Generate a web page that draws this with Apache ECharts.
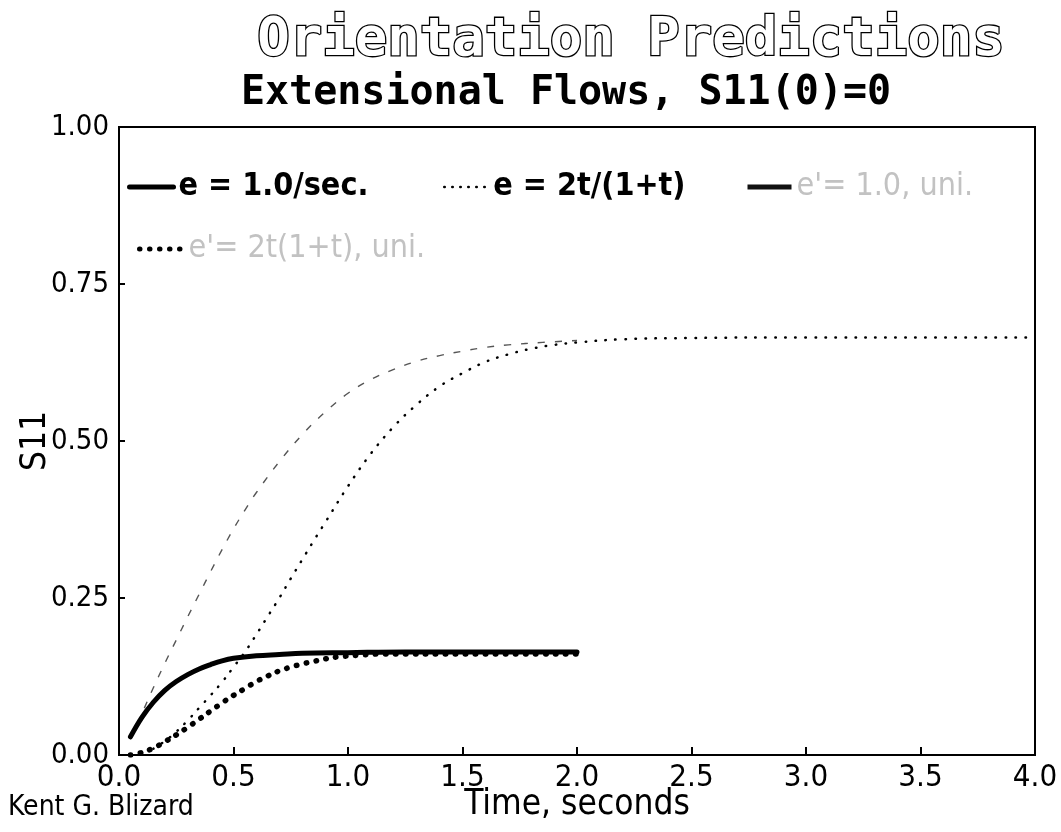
<!DOCTYPE html>
<html><head><meta charset="utf-8">
<script src="https://cdn.jsdelivr.net/npm/echarts@6/dist/echarts.min.js"></script>
<style>html,body{margin:0;padding:0;background:#fff}#c{width:1061px;height:832px}</style>
</head><body><div id="c"></div>
<script>
const titleText = 'Orientation Predictions';
const subtitleText = 'Extensional Flows, S11(0)=0';
const authorText = 'Kent G. Blizard';
const xAxisName = 'Time, seconds';
const yAxisName = 'S11';
const seriesNames = ['e = 1.0/sec.', 'e = 2t/(1+t)', "e'= 1.0, uni.", "e'= 2t(1+t), uni."];

// Series 1: e = 1.0/sec. (solid)
const s1T = [0.05,0.10,0.15,0.20,0.25,0.30,0.35,0.40,0.45,0.50,0.60,0.70,0.80,1.0,1.25,1.5,1.75,2.0];
const s1V = [0.029,0.060,0.084,0.103,0.117,0.128,0.137,0.144,0.150,0.154,0.158,0.160,0.162,0.163,0.164,0.164,0.164,0.164];
// Series 2: e = 2t/(1+t) (fine dots)
const s2T = [0.15,0.20,0.25,0.30,0.35,0.40,0.45,0.50,0.55,0.60,0.65,0.70,0.75,0.80,0.85,0.90,1.00,1.10,1.20,1.30,1.40,1.50,1.60,1.70,1.80,1.90,2.00,2.20,2.50,3.0,3.5,4.0];
const s2V = [0.010,0.022,0.037,0.055,0.075,0.095,0.116,0.140,0.164,0.192,0.221,0.250,0.281,0.311,0.341,0.370,0.428,0.480,0.523,0.558,0.587,0.608,0.626,0.638,0.647,0.653,0.657,0.662,0.664,0.665,0.665,0.665];
// Series 3: e'= 1.0, uni. (faint dashes)
const s3T = [0.05,0.10,0.15,0.20,0.25,0.30,0.35,0.40,0.45,0.50,0.55,0.60,0.70,0.80,0.90,1.00,1.10,1.20,1.30,1.40,1.50,1.60,1.70,1.85,2.0];
const s3V = [0.025,0.066,0.107,0.146,0.183,0.220,0.256,0.292,0.327,0.360,0.390,0.418,0.467,0.510,0.546,0.576,0.598,0.614,0.627,0.636,0.643,0.649,0.653,0.657,0.660];
// Series 4: e'= 2t(1+t), uni. (bold dots)
const s4T = [0.05,0.10,0.15,0.20,0.25,0.30,0.35,0.40,0.45,0.50,0.55,0.60,0.65,0.70,0.75,0.80,0.85,0.90,0.95,1.05,1.15,1.5,2.0];
const s4V = [0.000,0.004,0.011,0.021,0.032,0.044,0.057,0.070,0.083,0.095,0.106,0.117,0.126,0.134,0.140,0.145,0.149,0.153,0.156,0.159,0.161,0.161,0.161];

const NARROW = '"Liberation Sans Narrow","DejaVu Sans Condensed","Arial Narrow",sans-serif';
const pairs = (t, v) => t.map((x, i) => [x, v[i]]);

const chart = echarts.init(document.getElementById('c'), null, {renderer: 'canvas'});
const legendBase = (name, left, top, textColor, weight, lineStyle) => ({
  data: [{name: name}], left: left, top: top, itemWidth: 44, itemHeight: 14, itemGap: 0,
  selectedMode: false,
  itemStyle: {opacity: 0},
  textStyle: {fontSize: 32, fontWeight: weight, fontFamily: NARROW, color: textColor},
  lineStyle: lineStyle
});

chart.setOption({
  animation: false,
  backgroundColor: '#fff',
  color: ['#000', '#000', '#333', '#000'],
  graphic: [
    {type: 'text', x: 631, y: 41, style: {text: titleText, font: 'bold 54px "DejaVu Sans Mono"', fill: '#fff', stroke: '#000', lineWidth: 2.6, align: 'center', verticalAlign: 'middle'}},
    {type: 'text', x: 566, y: 94, style: {text: subtitleText, font: 'bold 40px "DejaVu Sans Mono"', fill: '#000', align: 'center', verticalAlign: 'middle'}},
    {type: 'text', x: 8, y: 808, style: {text: authorText, font: '28px ' + NARROW, fill: '#000', align: 'left', verticalAlign: 'middle'}}
  ],
  legend: [
    legendBase(seriesNames[0], 122, 166, '#000', 'bold', {width: 5, type: 'solid', color: '#000'}),
    legendBase(seriesNames[1], 438, 166, '#000', 'bold', {width: 2.5, type: [0.5, 7.5], cap: 'round', color: '#000'}),
    legendBase(seriesNames[2], 740, 166, '#c2c2c2', 'normal', {width: 5, type: 'solid', color: '#111'}),
    legendBase(seriesNames[3], 132, 228, '#c2c2c2', 'normal', {width: 5, type: [0.5, 9.5], cap: 'round', color: '#000'})
  ],
  grid: {left: 119, right: 26, top: 127, bottom: 77, show: true, borderColor: '#000', borderWidth: 2,
         containLabel: false, outerBoundsMode: 'none'},
  xAxis: {
    type: 'value', min: 0, max: 4, interval: 0.5,
    name: xAxisName, nameLocation: 'middle', nameGap: 32, nameMoveOverlap: false,
    nameTextStyle: {fontSize: 35, fontFamily: NARROW, color: '#000', verticalAlign: 'top'},
    axisLine: {lineStyle: {color: '#000', width: 2}},
    axisTick: {inside: true, length: 8, lineStyle: {color: '#000', width: 2}},
    axisLabel: {fontSize: 31, fontFamily: NARROW, color: '#000', margin: 7, formatter: v => v.toFixed(1)},
    splitLine: {show: false}
  },
  yAxis: {
    type: 'value', min: 0, max: 1, interval: 0.25,
    name: yAxisName, nameLocation: 'middle', nameGap: 66, nameRotate: 90, nameMoveOverlap: false,
    nameTextStyle: {fontSize: 35, fontFamily: NARROW, color: '#000'},
    axisLine: {lineStyle: {color: '#000', width: 2}},
    axisTick: {inside: true, length: 6, lineStyle: {color: '#000', width: 2}},
    axisLabel: {fontSize: 29, fontFamily: NARROW, color: '#000', margin: 10, formatter: v => v.toFixed(2)},
    splitLine: {show: false}
  },
  series: [
    {name: seriesNames[0], type: 'line', data: pairs(s1T, s1V), showSymbol: false, symbol: 'none', smooth: 0.4,
     lineStyle: {color: '#000', width: 5, cap: 'round'}, z: 5},
    {name: seriesNames[1], type: 'line', data: pairs(s2T, s2V), showSymbol: false, symbol: 'none', smooth: 0.4,
     lineStyle: {color: '#000', width: 2.5, type: [0.5, 9.5], cap: 'round'}},
    {name: seriesNames[2], type: 'line', data: pairs(s3T, s3V), showSymbol: false, symbol: 'none', smooth: 0.4,
     lineStyle: {color: '#555', width: 1.4, type: [7, 10]}},
    {name: seriesNames[3], type: 'line', data: pairs(s4T, s4V), showSymbol: false, symbol: 'none', smooth: 0.4,
     lineStyle: {color: '#000', width: 5.5, type: [0.5, 9.5], cap: 'round'}}
  ]
});
</script></body></html>
